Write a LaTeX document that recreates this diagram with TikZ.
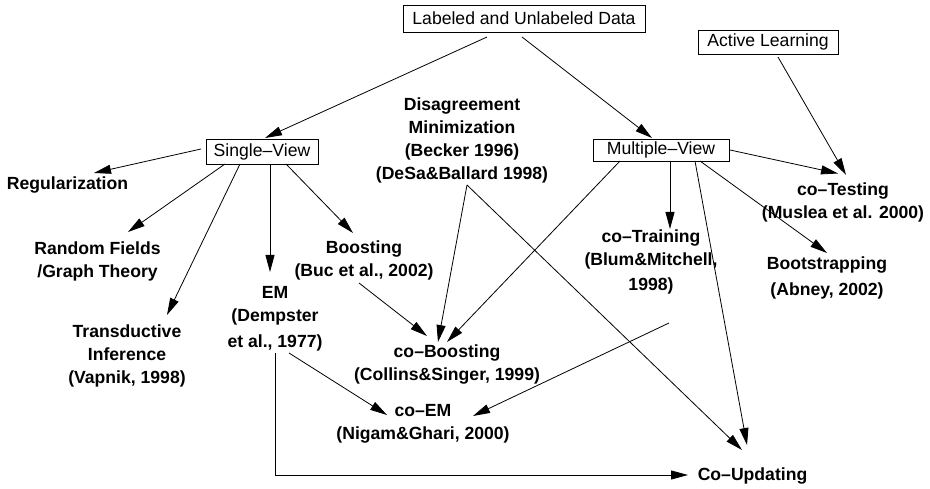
\documentclass[tikz,border=0pt]{standalone}
\usepackage{fontspec}
\setmainfont{Liberation Sans}
\usetikzlibrary{arrows.meta}
\begin{document}
\begin{tikzpicture}[x=1pt,y=-1pt,
  box/.style={draw,line width=0.9pt,inner sep=0pt,font=\fontsize{17.6}{22.7}\selectfont},
  lbl/.style={inner sep=0pt,align=center,anchor=north,font=\fontsize{17.6}{22.7}\selectfont\bfseries},
  arr/.style={line width=0.8pt,-{Triangle[length=17pt,width=9pt]}}]
\useasboundingbox (0,0) rectangle (930,489);
% boxes
\node[box,minimum width=242pt,minimum height=27pt] (data) at (524,18.5) {Labeled and Unlabeled Data};
\node[box,minimum width=140pt,minimum height=24pt] (al) at (768,42) {Active Learning};
\node[box,minimum width=136pt,minimum height=22pt] (mv) at (661,150) {Multiple--View};
\node[box,minimum width=112pt,minimum height=25pt] (sv) at (262,151.5) {Single--View};
% labels
\node[lbl] (reg) at (67.5,177) {Regularization};
\node[lbl] (rf) at (97.5,242) {Random Fields\\/Graph Theory};
\node[lbl] (td) at (127,325) {Transductive\\Inference\\(Vapnik, 1998)};
\node[lbl] (em) at (275,286) {EM\\(Dempster\\[4pt]et al., 1977)};
\node[lbl] (boost) at (364,241) {Boosting\\(Buc et al., 2002)};
\node[lbl] (dis) at (462,98) {Disagreement\\Minimization\\(Becker 1996)\\(DeSa\&Ballard 1998)};
\node[lbl] (cotr) at (651,230) {co--Training\\(Blum\&Mitchell,\\[2pt]1998)};
\node[lbl] (cote) at (843,183) {co--Testing\\(Muslea et al. 2000)};
\node[lbl] (boot) at (827,257) {Bootstrapping\\[3pt](Abney, 2002)};
\node[lbl] (coboost) at (447,345) {co--Boosting\\(Collins\&Singer, 1999)};
\node[lbl] (coem) at (423,404) {co--EM\\(Nigam\&Ghari, 2000)};
\node[lbl] (coup) at (752.5,468) {Co--Updating};
% connectors
\draw[arr] ([shift={(-37,18.5)}]data.center) -- ([shift={(3,-13.5)}]sv.center);
\draw[arr] ([shift={(-2,18.5)}]data.center) -- ([shift={(-9,-12)}]mv.center);
\draw[arr] ([shift={(10,15)}]al.center) -- ([shift={(3,-8)}]cote.north);
\draw[arr] ([shift={(69,0)}]mv.center) -- ([shift={(-5,-9.5)}]cote.north);
\draw[arr] ([shift={(9,11)}]mv.center) -- ([shift={(19,-1)}]cotr.north);
\draw[arr] ([shift={(39,11)}]mv.center) -- ([shift={(0,-4)}]boot.north);
\draw[arr] ([shift={(34,11)}]mv.center) -- ([shift={(-5.5,-23)}]coup.north);
\draw[arr] ([shift={(-41,11)}]mv.center) -- ([shift={(0,-3)}]coboost.north);
\draw[arr] ([shift={(5,87)}]dis.north) -- ([shift={(-9,-3)}]coboost.north);
\draw[arr] ([shift={(5,87)}]dis.north) -- ([shift={(-10.5,-18)}]coup.north);
\draw[arr] ([shift={(-5,42)}]boost.north) -- ([shift={(-20,-9)}]coboost.north);
\draw[arr] ([shift={(18,93)}]cotr.north) -- ([shift={(50,12)}]coem.north);
\draw[arr] ([shift={(14,67)}]em.north) -- ([shift={(-36,11)}]coem.north);
\draw[arr] ([shift={(0,67)}]em.north) |- ([shift={(-64.5,7)}]coup.north);
\draw[arr] ([shift={(-61,-2.5)}]sv.center) -- ([shift={(26.5,-4)}]reg.north);
\draw[arr] ([shift={(-37,12.5)}]sv.center) -- ([shift={(30.5,-10)}]rf.north);
\draw[arr] ([shift={(-22,12.5)}]sv.center) -- ([shift={(40,-10)}]td.north);
\draw[arr] ([shift={(8,12.5)}]sv.center) -- ([shift={(-5,-14)}]em.north);
\draw[arr] ([shift={(24,12.5)}]sv.center) -- ([shift={(-11,-8)}]boost.north);
\end{tikzpicture}
\end{document}
